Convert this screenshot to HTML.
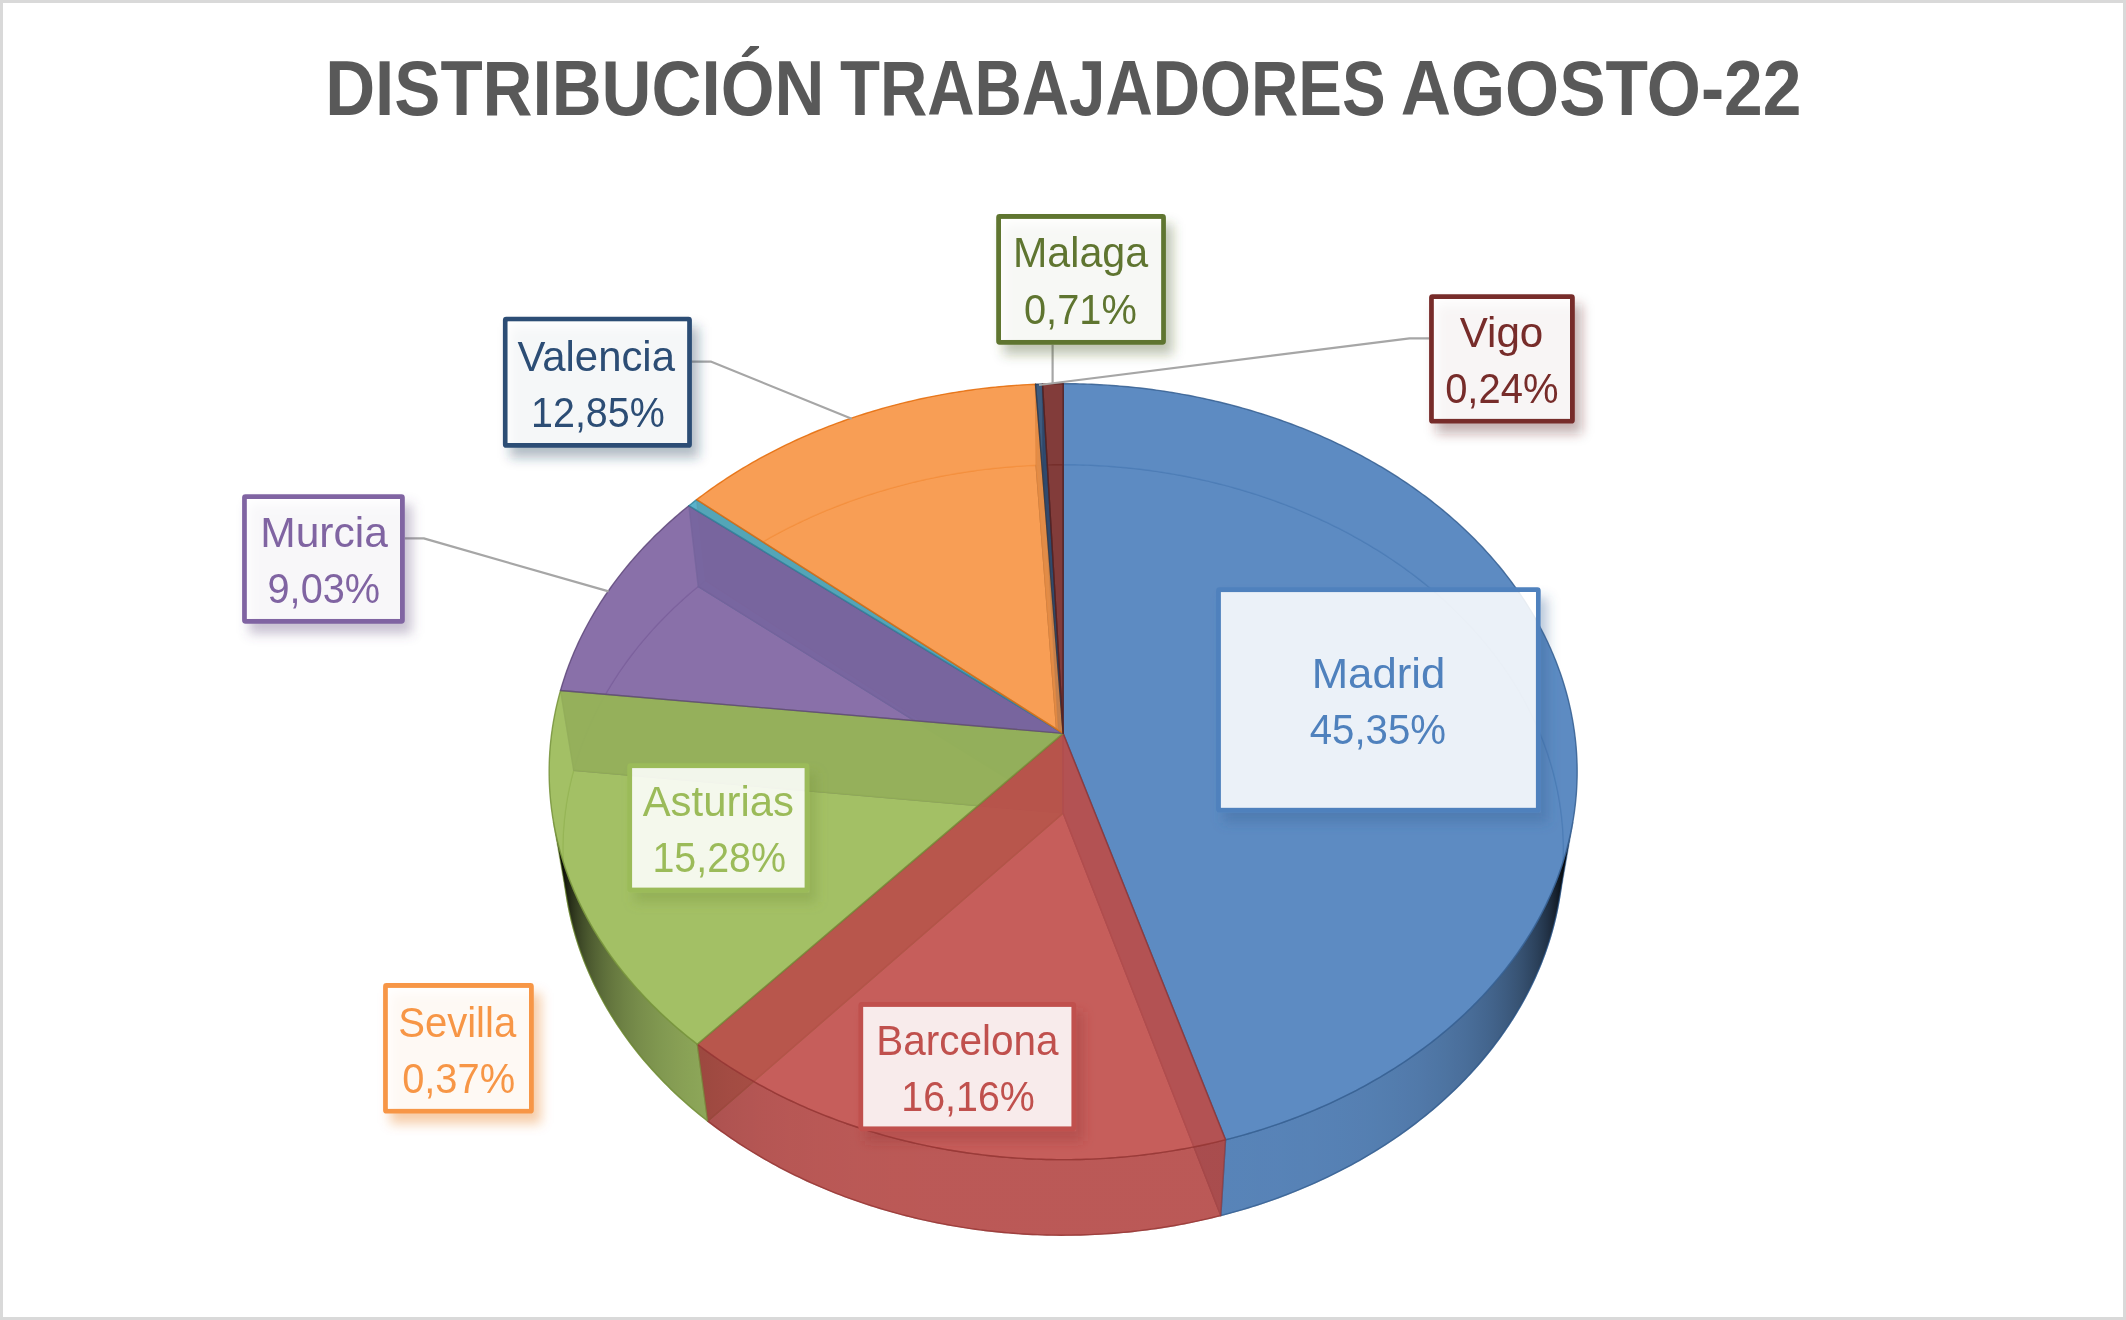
<!DOCTYPE html>
<html><head><meta charset="utf-8"><style>
html,body{margin:0;padding:0;background:#fff;}
body{width:2126px;height:1320px;overflow:hidden;}
svg{display:block;font-family:"Liberation Sans", sans-serif;will-change:transform;}
</style></head><body>
<svg width="2126" height="1320" viewBox="0 0 2126 1320">
<defs><filter id="blur" x="-20%" y="-20%" width="140%" height="140%"><feGaussianBlur stdDeviation="6"/></filter></defs>
<rect x="0" y="0" width="2126" height="1320" fill="#ffffff"/>
<rect x="1.5" y="1.5" width="2123" height="1317" fill="none" stroke="#d9d9d9" stroke-width="3"/>
<text x="325.2" y="114.5" font-size="77" font-weight="bold" fill="#595959" textLength="499.1" lengthAdjust="spacingAndGlyphs">DISTRIBUCIÓN</text>
<text x="839.9" y="114.5" font-size="77" font-weight="bold" fill="#595959" textLength="545.7" lengthAdjust="spacingAndGlyphs">TRABAJADORES</text>
<text x="1400.7" y="114.5" font-size="77" font-weight="bold" fill="#595959" textLength="400.8" lengthAdjust="spacingAndGlyphs">AGOSTO-22</text>
<g id="pie">
<defs><linearGradient id="g0" gradientUnits="userSpaceOnUse" x1="1565.73" y1="0" x2="1223.14" y2="0"><stop offset="-0.0000" stop-color="#000000" stop-opacity="1.000"/><stop offset="0.0037" stop-color="#040608" stop-opacity="1.000"/><stop offset="0.0078" stop-color="#070a0f" stop-opacity="0.991"/><stop offset="0.0124" stop-color="#060a0f" stop-opacity="0.954"/><stop offset="0.0174" stop-color="#050a10" stop-opacity="0.919"/><stop offset="0.0229" stop-color="#040a11" stop-opacity="0.885"/><stop offset="0.0288" stop-color="#040a12" stop-opacity="0.852"/><stop offset="0.0353" stop-color="#030a13" stop-opacity="0.820"/><stop offset="0.0421" stop-color="#020a14" stop-opacity="0.788"/><stop offset="0.0495" stop-color="#010a16" stop-opacity="0.758"/><stop offset="0.0573" stop-color="#000a17" stop-opacity="0.729"/><stop offset="0.0655" stop-color="#020e1d" stop-opacity="0.720"/><stop offset="0.0742" stop-color="#061425" stop-opacity="0.720"/><stop offset="0.0834" stop-color="#0a1a2d" stop-opacity="0.720"/><stop offset="0.0931" stop-color="#0e1f34" stop-opacity="0.720"/><stop offset="0.1032" stop-color="#11243b" stop-opacity="0.720"/><stop offset="0.1137" stop-color="#142942" stop-opacity="0.720"/><stop offset="0.1247" stop-color="#182e49" stop-opacity="0.720"/><stop offset="0.1362" stop-color="#1b334f" stop-opacity="0.720"/><stop offset="0.1481" stop-color="#1e3755" stop-opacity="0.720"/><stop offset="0.1604" stop-color="#203b5b" stop-opacity="0.720"/><stop offset="0.1732" stop-color="#233f61" stop-opacity="0.720"/><stop offset="0.1865" stop-color="#254366" stop-opacity="0.720"/><stop offset="0.2002" stop-color="#28466b" stop-opacity="0.720"/><stop offset="0.2143" stop-color="#2a4a70" stop-opacity="0.720"/><stop offset="0.2288" stop-color="#2c4d75" stop-opacity="0.720"/><stop offset="0.2438" stop-color="#2e5079" stop-opacity="0.720"/><stop offset="0.2593" stop-color="#30537d" stop-opacity="0.720"/><stop offset="0.2751" stop-color="#325681" stop-opacity="0.720"/><stop offset="0.2914" stop-color="#345985" stop-opacity="0.720"/><stop offset="0.3081" stop-color="#365b88" stop-opacity="0.720"/><stop offset="0.3252" stop-color="#375d8b" stop-opacity="0.720"/><stop offset="0.3427" stop-color="#39608e" stop-opacity="0.720"/><stop offset="0.3606" stop-color="#3a6291" stop-opacity="0.720"/><stop offset="0.3789" stop-color="#3b6494" stop-opacity="0.720"/><stop offset="0.3976" stop-color="#3d6596" stop-opacity="0.720"/><stop offset="0.4167" stop-color="#3e6799" stop-opacity="0.720"/><stop offset="0.4361" stop-color="#3f699b" stop-opacity="0.720"/><stop offset="0.4560" stop-color="#406a9d" stop-opacity="0.720"/><stop offset="0.4762" stop-color="#416b9f" stop-opacity="0.720"/><stop offset="0.4968" stop-color="#416da0" stop-opacity="0.720"/><stop offset="0.5177" stop-color="#426ea2" stop-opacity="0.720"/><stop offset="0.5390" stop-color="#436fa3" stop-opacity="0.720"/><stop offset="0.5606" stop-color="#4370a5" stop-opacity="0.720"/><stop offset="0.5826" stop-color="#4471a6" stop-opacity="0.720"/><stop offset="0.6049" stop-color="#4571a7" stop-opacity="0.720"/><stop offset="0.6275" stop-color="#4572a8" stop-opacity="0.720"/><stop offset="0.6505" stop-color="#4573a9" stop-opacity="0.720"/><stop offset="0.6737" stop-color="#4673aa" stop-opacity="0.720"/><stop offset="0.6973" stop-color="#4674ab" stop-opacity="0.720"/><stop offset="0.7211" stop-color="#4774ab" stop-opacity="0.720"/><stop offset="0.7452" stop-color="#4775ac" stop-opacity="0.720"/><stop offset="0.7696" stop-color="#4775ac" stop-opacity="0.720"/><stop offset="0.7943" stop-color="#4775ad" stop-opacity="0.720"/><stop offset="0.8192" stop-color="#4776ad" stop-opacity="0.720"/><stop offset="0.8443" stop-color="#4876ae" stop-opacity="0.720"/><stop offset="0.8697" stop-color="#4876ae" stop-opacity="0.720"/><stop offset="0.8954" stop-color="#4876ae" stop-opacity="0.720"/><stop offset="0.9212" stop-color="#4877ae" stop-opacity="0.720"/><stop offset="0.9473" stop-color="#4877af" stop-opacity="0.720"/><stop offset="0.9735" stop-color="#4877af" stop-opacity="0.720"/><stop offset="1.0000" stop-color="#4877af" stop-opacity="0.720"/></linearGradient><linearGradient id="g1" gradientUnits="userSpaceOnUse" x1="1223.14" y1="0" x2="702.63" y2="0"><stop offset="-0.0000" stop-color="#b24946" stop-opacity="0.720"/><stop offset="0.0175" stop-color="#b24946" stop-opacity="0.720"/><stop offset="0.0352" stop-color="#b24947" stop-opacity="0.720"/><stop offset="0.0529" stop-color="#b24947" stop-opacity="0.720"/><stop offset="0.0707" stop-color="#b24947" stop-opacity="0.720"/><stop offset="0.0887" stop-color="#b24947" stop-opacity="0.720"/><stop offset="0.1067" stop-color="#b24947" stop-opacity="0.720"/><stop offset="0.1248" stop-color="#b24947" stop-opacity="0.720"/><stop offset="0.1429" stop-color="#b24947" stop-opacity="0.720"/><stop offset="0.1612" stop-color="#b24947" stop-opacity="0.720"/><stop offset="0.1794" stop-color="#b24947" stop-opacity="0.720"/><stop offset="0.1978" stop-color="#b24947" stop-opacity="0.720"/><stop offset="0.2162" stop-color="#b24947" stop-opacity="0.720"/><stop offset="0.2346" stop-color="#b24947" stop-opacity="0.720"/><stop offset="0.2530" stop-color="#b24947" stop-opacity="0.720"/><stop offset="0.2715" stop-color="#b24947" stop-opacity="0.720"/><stop offset="0.2900" stop-color="#b24947" stop-opacity="0.720"/><stop offset="0.3084" stop-color="#b24947" stop-opacity="0.720"/><stop offset="0.3269" stop-color="#b24947" stop-opacity="0.720"/><stop offset="0.3454" stop-color="#b24947" stop-opacity="0.720"/><stop offset="0.3639" stop-color="#b24947" stop-opacity="0.720"/><stop offset="0.3823" stop-color="#b24947" stop-opacity="0.720"/><stop offset="0.4007" stop-color="#b24947" stop-opacity="0.720"/><stop offset="0.4191" stop-color="#b24947" stop-opacity="0.720"/><stop offset="0.4374" stop-color="#b24947" stop-opacity="0.720"/><stop offset="0.4557" stop-color="#b24947" stop-opacity="0.720"/><stop offset="0.4739" stop-color="#b24947" stop-opacity="0.720"/><stop offset="0.4921" stop-color="#b24947" stop-opacity="0.720"/><stop offset="0.5102" stop-color="#b24947" stop-opacity="0.720"/><stop offset="0.5282" stop-color="#b24947" stop-opacity="0.720"/><stop offset="0.5461" stop-color="#b24947" stop-opacity="0.720"/><stop offset="0.5639" stop-color="#b24947" stop-opacity="0.720"/><stop offset="0.5817" stop-color="#b24947" stop-opacity="0.720"/><stop offset="0.5993" stop-color="#b24946" stop-opacity="0.720"/><stop offset="0.6168" stop-color="#b24946" stop-opacity="0.720"/><stop offset="0.6342" stop-color="#b24946" stop-opacity="0.720"/><stop offset="0.6514" stop-color="#b14946" stop-opacity="0.720"/><stop offset="0.6686" stop-color="#b14946" stop-opacity="0.720"/><stop offset="0.6855" stop-color="#b14946" stop-opacity="0.720"/><stop offset="0.7024" stop-color="#b14946" stop-opacity="0.720"/><stop offset="0.7191" stop-color="#b04946" stop-opacity="0.720"/><stop offset="0.7356" stop-color="#b04846" stop-opacity="0.720"/><stop offset="0.7520" stop-color="#b04845" stop-opacity="0.720"/><stop offset="0.7682" stop-color="#af4845" stop-opacity="0.720"/><stop offset="0.7842" stop-color="#af4845" stop-opacity="0.720"/><stop offset="0.8001" stop-color="#ae4745" stop-opacity="0.720"/><stop offset="0.8157" stop-color="#ad4744" stop-opacity="0.720"/><stop offset="0.8312" stop-color="#ad4744" stop-opacity="0.720"/><stop offset="0.8465" stop-color="#ac4644" stop-opacity="0.720"/><stop offset="0.8615" stop-color="#ab4643" stop-opacity="0.720"/><stop offset="0.8764" stop-color="#aa4543" stop-opacity="0.720"/><stop offset="0.8910" stop-color="#a94542" stop-opacity="0.720"/><stop offset="0.9055" stop-color="#a74442" stop-opacity="0.720"/><stop offset="0.9197" stop-color="#a64441" stop-opacity="0.720"/><stop offset="0.9337" stop-color="#a44340" stop-opacity="0.720"/><stop offset="0.9474" stop-color="#a34240" stop-opacity="0.720"/><stop offset="0.9609" stop-color="#a1413f" stop-opacity="0.720"/><stop offset="0.9742" stop-color="#9f403e" stop-opacity="0.720"/><stop offset="0.9872" stop-color="#9d3f3d" stop-opacity="0.720"/><stop offset="1.0000" stop-color="#9b3e3c" stop-opacity="0.720"/></linearGradient><linearGradient id="g2" gradientUnits="userSpaceOnUse" x1="702.63" y1="0" x2="560.52" y2="0"><stop offset="-0.0000" stop-color="#7c9746" stop-opacity="0.720"/><stop offset="0.0458" stop-color="#7a9445" stop-opacity="0.720"/><stop offset="0.0907" stop-color="#789243" stop-opacity="0.720"/><stop offset="0.1347" stop-color="#768f42" stop-opacity="0.720"/><stop offset="0.1777" stop-color="#748c40" stop-opacity="0.720"/><stop offset="0.2197" stop-color="#71893f" stop-opacity="0.720"/><stop offset="0.2608" stop-color="#6e863d" stop-opacity="0.720"/><stop offset="0.3008" stop-color="#6b833b" stop-opacity="0.720"/><stop offset="0.3399" stop-color="#687f39" stop-opacity="0.720"/><stop offset="0.3779" stop-color="#657b37" stop-opacity="0.720"/><stop offset="0.4149" stop-color="#627735" stop-opacity="0.720"/><stop offset="0.4509" stop-color="#5e7333" stop-opacity="0.720"/><stop offset="0.4859" stop-color="#5a6e30" stop-opacity="0.720"/><stop offset="0.5198" stop-color="#566a2e" stop-opacity="0.720"/><stop offset="0.5526" stop-color="#52652b" stop-opacity="0.720"/><stop offset="0.5844" stop-color="#4d5f28" stop-opacity="0.720"/><stop offset="0.6151" stop-color="#495a25" stop-opacity="0.720"/><stop offset="0.6448" stop-color="#445422" stop-opacity="0.720"/><stop offset="0.6734" stop-color="#3f4e1f" stop-opacity="0.720"/><stop offset="0.7009" stop-color="#39481c" stop-opacity="0.720"/><stop offset="0.7273" stop-color="#344118" stop-opacity="0.720"/><stop offset="0.7526" stop-color="#2e3a15" stop-opacity="0.720"/><stop offset="0.7768" stop-color="#283311" stop-opacity="0.720"/><stop offset="0.7999" stop-color="#222c0d" stop-opacity="0.720"/><stop offset="0.8219" stop-color="#1b2409" stop-opacity="0.720"/><stop offset="0.8429" stop-color="#141c05" stop-opacity="0.720"/><stop offset="0.8627" stop-color="#0d1300" stop-opacity="0.720"/><stop offset="0.8814" stop-color="#0a0f00" stop-opacity="0.736"/><stop offset="0.8990" stop-color="#0a0f00" stop-opacity="0.769"/><stop offset="0.9155" stop-color="#0b0f02" stop-opacity="0.804"/><stop offset="0.9309" stop-color="#0b0f03" stop-opacity="0.840"/><stop offset="0.9451" stop-color="#0b0f04" stop-opacity="0.877"/><stop offset="0.9583" stop-color="#0c0f05" stop-opacity="0.915"/><stop offset="0.9704" stop-color="#0c0f07" stop-opacity="0.954"/><stop offset="0.9814" stop-color="#0d0f08" stop-opacity="0.995"/><stop offset="0.9912" stop-color="#070804" stop-opacity="1.000"/><stop offset="1.0000" stop-color="#000000" stop-opacity="1.000"/></linearGradient></defs>
<polygon points="1063.15,812.92 1063.28,464.71 1067.23,464.72 1071.19,464.76 1075.15,464.82 1079.11,464.90 1083.07,465.01 1087.02,465.14 1090.98,465.30 1094.93,465.48 1098.88,465.69 1102.83,465.92 1106.78,466.17 1110.72,466.45 1114.66,466.75 1118.60,467.08 1122.54,467.43 1126.47,467.80 1130.40,468.20 1134.32,468.62 1138.24,469.07 1142.16,469.54 1146.07,470.03 1149.98,470.55 1153.88,471.09 1157.78,471.66 1161.67,472.25 1165.56,472.86 1169.44,473.50 1173.32,474.16 1177.19,474.85 1181.05,475.56 1184.90,476.29 1188.75,477.05 1192.60,477.83 1196.43,478.63 1200.26,479.46 1204.08,480.31 1207.89,481.18 1211.69,482.08 1215.48,483.00 1219.27,483.95 1223.05,484.91 1226.81,485.90 1230.57,486.92 1234.32,487.96 1238.06,489.02 1241.79,490.10 1245.51,491.21 1249.22,492.34 1252.92,493.50 1256.60,494.67 1260.28,495.87 1263.94,497.10 1267.60,498.34 1271.24,499.61 1274.87,500.90 1278.48,502.22 1282.09,503.56 1285.68,504.92 1289.26,506.30 1292.82,507.70 1296.37,509.13 1299.91,510.58 1303.44,512.05 1306.95,513.55 1310.45,515.06 1313.93,516.60 1317.40,518.17 1320.85,519.75 1324.29,521.35 1327.71,522.98 1331.11,524.63 1334.50,526.30 1337.88,527.99 1341.24,529.71 1344.58,531.44 1347.90,533.20 1351.21,534.98 1354.50,536.78 1357.78,538.60 1361.03,540.44 1364.27,542.31 1367.49,544.19 1370.69,546.10 1373.88,548.03 1377.04,549.97 1380.19,551.94 1383.32,553.93 1386.42,555.94 1389.51,557.97 1392.58,560.02 1395.63,562.09 1398.65,564.18 1401.66,566.29 1404.65,568.42 1407.61,570.57 1410.56,572.74 1413.48,574.93 1416.38,577.14 1419.26,579.37 1422.12,581.62 1424.95,583.89 1427.77,586.18 1430.56,588.48 1433.32,590.81 1436.07,593.15 1438.79,595.51 1441.49,597.89 1444.16,600.29 1446.81,602.71 1449.44,605.15 1452.04,607.60 1454.61,610.08 1457.17,612.57 1459.69,615.07 1462.19,617.60 1464.67,620.14 1467.12,622.70 1469.54,625.28 1471.94,627.88 1474.31,630.49 1476.66,633.12 1478.98,635.76 1481.27,638.42 1483.53,641.10 1485.77,643.80 1487.98,646.51 1490.16,649.23 1492.31,651.98 1494.44,654.74 1496.54,657.51 1498.61,660.30 1500.65,663.10 1502.66,665.92 1504.64,668.76 1506.59,671.61 1508.51,674.47 1510.41,677.35 1512.27,680.24 1514.10,683.15 1515.90,686.07 1517.68,689.00 1519.42,691.95 1521.13,694.91 1522.80,697.89 1524.45,700.88 1526.07,703.88 1527.65,706.89 1529.21,709.92 1530.73,712.96 1532.21,716.01 1533.67,719.07 1535.09,722.14 1536.48,725.23 1537.84,728.33 1539.16,731.44 1540.46,734.56 1541.71,737.69 1542.94,740.83 1544.13,743.98 1545.28,747.14 1546.40,750.32 1547.49,753.50 1548.54,756.69 1549.56,759.89 1550.55,763.10 1551.49,766.32 1552.41,769.55 1553.29,772.78 1554.13,776.03 1554.94,779.28 1555.71,782.54 1556.44,785.81 1557.14,789.09 1557.80,792.37 1558.43,795.66 1559.02,798.96 1559.58,802.26 1560.09,805.57 1560.57,808.89 1561.02,812.21 1561.42,815.54 1561.79,818.87 1562.12,822.21 1562.42,825.56 1562.68,828.90 1562.90,832.26 1563.08,835.61 1563.22,838.97 1563.33,842.34 1563.39,845.70 1563.42,849.07 1563.41,852.45 1563.36,855.82 1563.28,859.20 1563.15,862.58 1562.99,865.97 1562.79,869.35 1562.55,872.74 1562.27,876.12 1561.95,879.51 1561.59,882.90 1561.19,886.29 1560.75,889.67 1560.28,893.06 1559.76,896.45 1559.21,899.84 1558.62,903.22 1557.98,906.61 1557.31,909.99 1556.60,913.37 1555.84,916.75 1555.05,920.12 1554.22,923.50 1553.35,926.87 1552.44,930.23 1551.49,933.60 1550.49,936.95 1549.46,940.31 1548.39,943.66 1547.28,947.00 1546.13,950.35 1544.94,953.68 1543.71,957.01 1542.44,960.33 1541.13,963.65 1539.78,966.96 1538.40,970.27 1536.97,973.56 1535.50,976.85 1533.99,980.13 1532.44,983.41 1530.85,986.67 1529.23,989.93 1527.56,993.17 1525.85,996.41 1524.11,999.64 1522.32,1002.86 1520.50,1006.07 1518.63,1009.27 1516.73,1012.45 1514.79,1015.63 1512.81,1018.80 1510.79,1021.95 1508.73,1025.09 1506.63,1028.22 1504.49,1031.34 1502.32,1034.44 1500.10,1037.53 1497.85,1040.61 1495.56,1043.67 1493.23,1046.72 1490.87,1049.76 1488.46,1052.78 1486.02,1055.78 1483.54,1058.77 1481.03,1061.74 1478.47,1064.70 1475.88,1067.64 1473.25,1070.57 1470.59,1073.48 1467.89,1076.37 1465.15,1079.24 1462.38,1082.10 1459.56,1084.94 1456.72,1087.76 1453.84,1090.56 1450.92,1093.34 1447.97,1096.11 1444.98,1098.85 1441.95,1101.57 1438.90,1104.28 1435.80,1106.96 1432.68,1109.63 1429.52,1112.27 1426.32,1114.89 1423.09,1117.49 1419.83,1120.07 1416.54,1122.62 1413.21,1125.16 1409.85,1127.67 1406.46,1130.15 1403.03,1132.62 1399.58,1135.06 1396.09,1137.48 1392.57,1139.87 1389.02,1142.24 1385.44,1144.59 1381.83,1146.91 1378.19,1149.20 1374.51,1151.47 1370.81,1153.71 1367.08,1155.93 1363.32,1158.13 1359.54,1160.29 1355.72,1162.43 1351.88,1164.54 1348.01,1166.63 1344.11,1168.69 1340.18,1170.72 1336.23,1172.72 1332.25,1174.70 1328.25,1176.65 1324.22,1178.56 1320.16,1180.45 1316.08,1182.32 1311.98,1184.15 1307.85,1185.95 1303.70,1187.72 1299.52,1189.47 1295.32,1191.18 1291.10,1192.86 1286.86,1194.52 1282.59,1196.14 1278.30,1197.73 1274.00,1199.29 1269.67,1200.82 1265.32,1202.32 1260.95,1203.79 1256.56,1205.22 1252.16,1206.63 1247.73,1208.00 1243.29,1209.34 1238.83,1210.65 1234.35,1211.92 1229.85,1213.16 1225.34,1214.37 1220.81,1215.55" fill="#4f81bd" fill-opacity="0.720" stroke="#376092" stroke-opacity="0.85" stroke-width="1.40" stroke-linejoin="round"/>
<polygon points="1063.15,812.92 1220.81,1215.55 1216.29,1216.69 1211.75,1217.79 1207.19,1218.87 1202.62,1219.91 1198.04,1220.91 1193.45,1221.88 1188.84,1222.82 1184.22,1223.73 1179.58,1224.60 1174.94,1225.44 1170.28,1226.24 1165.62,1227.01 1160.94,1227.75 1156.25,1228.45 1151.56,1229.12 1146.86,1229.75 1142.14,1230.35 1137.42,1230.91 1132.70,1231.44 1127.96,1231.93 1123.22,1232.39 1118.47,1232.82 1113.72,1233.21 1108.96,1233.56 1104.20,1233.88 1099.44,1234.17 1094.67,1234.41 1089.90,1234.63 1085.12,1234.81 1080.34,1234.95 1075.56,1235.06 1070.78,1235.14 1066.00,1235.17 1061.22,1235.18 1056.44,1235.15 1051.66,1235.08 1046.88,1234.98 1042.10,1234.84 1037.33,1234.67 1032.55,1234.46 1027.78,1234.22 1023.02,1233.94 1018.25,1233.63 1013.50,1233.28 1008.74,1232.90 1004.00,1232.48 999.25,1232.03 994.52,1231.54 989.79,1231.02 985.07,1230.46 980.35,1229.87 975.65,1229.24 970.95,1228.58 966.26,1227.89 961.59,1227.16 956.92,1226.40 952.26,1225.60 947.61,1224.77 942.98,1223.90 938.35,1223.00 933.74,1222.07 929.15,1221.10 924.56,1220.10 919.99,1219.07 915.43,1218.00 910.89,1216.91 906.36,1215.77 901.85,1214.61 897.35,1213.41 892.87,1212.18 888.41,1210.92 883.96,1209.62 879.53,1208.29 875.12,1206.94 870.73,1205.54 866.35,1204.12 862.00,1202.67 857.66,1201.18 853.34,1199.67 849.05,1198.12 844.77,1196.54 840.52,1194.93 836.29,1193.30 832.08,1191.63 827.89,1189.93 823.73,1188.20 819.59,1186.44 815.47,1184.65 811.37,1182.84 807.30,1180.99 803.26,1179.12 799.24,1177.22 795.24,1175.29 791.27,1173.33 787.33,1171.34 783.41,1169.33 779.52,1167.28 775.65,1165.22 771.82,1163.12 768.01,1161.00 764.22,1158.85 760.47,1156.67 756.75,1154.47 753.05,1152.25 749.38,1150.00 745.75,1147.72 742.14,1145.42 738.56,1143.09 735.02,1140.74 731.50,1138.36 728.01,1135.97 724.56,1133.54 721.14,1131.10 717.75,1128.63 714.39,1126.14 711.06,1123.62 707.77,1121.09" fill="#c0504d" fill-opacity="0.720" stroke="#953735" stroke-opacity="0.85" stroke-width="1.40" stroke-linejoin="round"/>
<polygon points="1063.15,812.92 707.77,1121.09 704.52,1118.54 701.30,1115.96 698.11,1113.37 694.96,1110.76 691.84,1108.12 688.76,1105.47 685.71,1102.79 682.69,1100.10 679.71,1097.38 676.76,1094.65 673.85,1091.90 670.97,1089.13 668.13,1086.33 665.32,1083.53 662.55,1080.70 659.81,1077.86 657.11,1075.00 654.45,1072.12 651.82,1069.22 649.23,1066.31 646.67,1063.38 644.15,1060.44 641.67,1057.48 639.23,1054.51 636.82,1051.52 634.45,1048.51 632.12,1045.50 629.82,1042.46 627.56,1039.42 625.34,1036.36 623.16,1033.29 621.01,1030.20 618.91,1027.10 616.84,1023.99 614.81,1020.87 612.82,1017.74 610.86,1014.59 608.95,1011.43 607.07,1008.27 605.23,1005.09 603.43,1001.90 601.67,998.70 599.95,995.50 598.27,992.28 596.62,989.05 595.02,985.82 593.45,982.58 591.93,979.32 590.44,976.07 588.99,972.80 587.58,969.52 586.21,966.24 584.88,962.96 583.59,959.66 582.34,956.36 581.12,953.06 579.95,949.75 578.81,946.43 577.72,943.11 576.66,939.78 575.65,936.45 574.67,933.12 573.73,929.78 572.83,926.43 571.97,923.09 571.15,919.74 570.37,916.39 569.62,913.04 568.92,909.68 568.26,906.32 567.63,902.96 567.04,899.60 566.50,896.24 565.99,892.88 565.52,889.52 565.08,886.15 564.69,882.79 564.34,879.43 564.02,876.07 563.74,872.70 563.50,869.34 563.30,865.98 563.14,862.63 563.02,859.27 562.93,855.92 562.88,852.57 562.87,849.22 562.90,845.87 562.96,842.53 563.06,839.19 563.20,835.85 563.38,832.52 563.60,829.19 563.85,825.87 564.14,822.55 564.46,819.24 564.82,815.93 565.22,812.63 565.66,809.33 566.13,806.03 566.64,802.75 567.18,799.47 567.76,796.19 568.38,792.93 569.03,789.67 569.72,786.41 570.44,783.17 571.20,779.93 571.99,776.70 572.82,773.47 573.69,770.26" fill="#9bbb59" fill-opacity="0.720" stroke="#77933c" stroke-opacity="0.85" stroke-width="1.40" stroke-linejoin="round"/>
<polygon points="1063.15,812.92 573.69,770.26 574.58,767.07 575.51,763.90 576.47,760.73 577.46,757.57 578.49,754.41 579.56,751.27 580.65,748.14 581.78,745.02 582.95,741.90 584.14,738.80 585.37,735.71 586.63,732.63 587.92,729.56 589.25,726.50 590.61,723.45 592.00,720.41 593.42,717.38 594.87,714.37 596.36,711.36 597.87,708.37 599.42,705.39 601.00,702.43 602.61,699.47 604.25,696.53 605.92,693.60 607.62,690.68 609.35,687.78 611.11,684.89 612.90,682.02 614.72,679.15 616.57,676.30 618.45,673.47 620.35,670.65 622.29,667.84 624.25,665.05 626.24,662.27 628.27,659.51 630.31,656.76 632.39,654.03 634.49,651.31 636.63,648.61 638.78,645.93 640.97,643.25 643.18,640.60 645.42,637.96 647.69,635.34 649.98,632.73 652.29,630.14 654.64,627.56 657.01,625.01 659.40,622.46 661.82,619.94 664.26,617.43 666.73,614.94 669.23,612.47 671.74,610.01 674.29,607.57 676.85,605.15 679.44,602.75 682.06,600.36 684.69,597.99 687.35,595.64 690.04,593.31 692.74,591.00 695.47,588.70 698.22,586.43" fill="#8064a2" fill-opacity="0.720" stroke="#604a7b" stroke-opacity="0.85" stroke-width="1.40" stroke-linejoin="round"/>
<polygon points="1063.15,812.92 698.22,586.43 700.72,584.39 703.23,582.37 705.77,580.36" fill="#4bacc6" fill-opacity="0.720" stroke="#31859c" stroke-opacity="0.85" stroke-width="1.40" stroke-linejoin="round"/>
<polygon points="1063.15,812.92 705.77,580.36 708.63,578.13 711.51,575.92 714.41,573.73 717.33,571.56 720.28,569.41 723.25,567.28 726.23,565.16 729.24,563.07 732.27,561.00 735.31,558.95 738.38,556.92 741.47,554.90 744.57,552.91 747.70,550.94 750.84,548.99 754.00,547.06 757.18,545.15 760.38,543.26 763.60,541.39 766.84,539.55 770.09,537.72 773.36,535.92 776.65,534.13 779.95,532.37 783.27,530.63 786.61,528.91 789.96,527.21 793.33,525.54 796.72,523.88 800.12,522.25 803.53,520.64 806.96,519.05 810.41,517.48 813.87,515.93 817.35,514.41 820.84,512.91 824.34,511.43 827.86,509.97 831.39,508.54 834.93,507.12 838.49,505.73 842.06,504.36 845.65,503.02 849.24,501.70 852.85,500.39 856.47,499.12 860.10,497.86 863.75,496.63 867.40,495.42 871.07,494.23 874.75,493.07 878.43,491.93 882.13,490.81 885.84,489.71 889.56,488.64 893.29,487.59 897.03,486.56 900.77,485.56 904.53,484.58 908.30,483.62 912.07,482.69 915.86,481.78 919.65,480.89 923.45,480.03 927.25,479.19 931.07,478.37 934.89,477.58 938.72,476.81 942.56,476.06 946.40,475.34 950.25,474.64 954.11,473.97 957.97,473.31 961.84,472.69 965.71,472.08 969.59,471.50 973.48,470.94 977.37,470.41 981.26,469.90 985.16,469.41 989.06,468.95 992.97,468.51 996.88,468.10 1000.80,467.71 1004.72,467.34 1008.64,467.00 1012.56,466.68 1016.49,466.38 1020.42,466.11 1024.36,465.86 1028.29,465.64 1032.23,465.44 1036.17,465.27" fill="#f79646" fill-opacity="0.720" stroke="#e46c0a" stroke-opacity="0.85" stroke-width="1.40" stroke-linejoin="round"/>
<polygon points="1063.15,812.92 1036.17,465.27 1039.59,465.13 1043.01,465.02" fill="#2c4d75" fill-opacity="0.720" stroke="#213a58" stroke-opacity="0.85" stroke-width="1.40" stroke-linejoin="round"/>
<polygon points="1063.15,812.92 1043.01,465.02 1046.39,464.92 1049.76,464.84 1053.14,464.78 1056.52,464.74 1059.90,464.71 1063.28,464.71" fill="#772c2a" fill-opacity="0.720" stroke="#59211f" stroke-opacity="0.85" stroke-width="1.40" stroke-linejoin="round"/>
<polygon points="1063.28,383.70 1067.32,383.71 1071.37,383.75 1075.42,383.81 1079.46,383.90 1083.51,384.00 1087.55,384.14 1091.59,384.29 1095.63,384.48 1099.67,384.68 1103.71,384.91 1107.74,385.16 1111.77,385.44 1115.80,385.74 1119.83,386.07 1123.85,386.42 1127.87,386.79 1131.89,387.19 1135.90,387.61 1139.91,388.05 1143.91,388.52 1147.91,389.01 1151.90,389.53 1155.89,390.07 1159.88,390.63 1163.86,391.22 1167.83,391.83 1171.80,392.47 1175.76,393.13 1179.72,393.81 1183.67,394.52 1187.61,395.25 1191.54,396.00 1195.47,396.78 1199.39,397.58 1203.31,398.40 1207.21,399.25 1211.11,400.12 1215.00,401.02 1218.88,401.94 1222.75,402.88 1226.61,403.84 1230.47,404.83 1234.31,405.84 1238.15,406.88 1241.97,407.94 1245.78,409.02 1249.59,410.12 1253.38,411.25 1257.17,412.40 1260.94,413.58 1264.70,414.77 1268.45,415.99 1272.19,417.23 1275.91,418.50 1279.63,419.79 1283.33,421.10 1287.02,422.43 1290.69,423.79 1294.35,425.17 1298.00,426.57 1301.64,427.99 1305.26,429.44 1308.87,430.91 1312.47,432.40 1316.05,433.91 1319.61,435.45 1323.16,437.00 1326.70,438.58 1330.22,440.18 1333.72,441.81 1337.21,443.45 1340.68,445.12 1344.14,446.81 1347.58,448.52 1351.01,450.25 1354.41,452.00 1357.80,453.78 1361.18,455.58 1364.53,457.39 1367.87,459.23 1371.19,461.09 1374.49,462.97 1377.77,464.88 1381.03,466.80 1384.28,468.74 1387.50,470.71 1390.71,472.69 1393.90,474.70 1397.07,476.72 1400.21,478.77 1403.34,480.84 1406.45,482.92 1409.53,485.03 1412.60,487.16 1415.64,489.31 1418.66,491.47 1421.66,493.66 1424.64,495.87 1427.60,498.09 1430.53,500.34 1433.44,502.60 1436.33,504.89 1439.20,507.19 1442.04,509.51 1444.86,511.85 1447.66,514.21 1450.43,516.59 1453.18,518.99 1455.90,521.40 1458.60,523.84 1461.28,526.29 1463.93,528.76 1466.55,531.25 1469.15,533.75 1471.73,536.28 1474.27,538.82 1476.80,541.38 1479.29,543.95 1481.76,546.55 1484.20,549.16 1486.62,551.78 1489.01,554.43 1491.37,557.09 1493.70,559.77 1496.01,562.46 1498.29,565.17 1500.54,567.90 1502.76,570.64 1504.95,573.40 1507.12,576.17 1509.25,578.96 1511.36,581.76 1513.44,584.58 1515.48,587.42 1517.50,590.27 1519.49,593.13 1521.44,596.01 1523.37,598.91 1525.27,601.82 1527.13,604.74 1528.97,607.67 1530.77,610.62 1532.54,613.59 1534.28,616.56 1535.99,619.56 1537.67,622.56 1539.31,625.57 1540.92,628.60 1542.50,631.65 1544.05,634.70 1545.56,637.77 1547.04,640.84 1548.49,643.93 1549.90,647.04 1551.28,650.15 1552.63,653.27 1553.94,656.41 1555.22,659.56 1556.46,662.71 1557.67,665.88 1558.84,669.06 1559.98,672.25 1561.09,675.44 1562.15,678.65 1563.19,681.87 1564.19,685.09 1565.15,688.33 1566.07,691.57 1566.96,694.83 1567.82,698.09 1568.63,701.36 1569.42,704.63 1570.16,707.92 1570.87,711.21 1571.54,714.51 1572.17,717.82 1572.77,721.13 1573.33,724.45 1573.85,727.78 1574.33,731.11 1574.78,734.45 1575.18,737.79 1575.55,741.14 1575.89,744.50 1576.18,747.86 1576.43,751.22 1576.65,754.59 1576.83,757.96 1576.97,761.34 1577.07,764.72 1577.13,768.10 1577.15,771.49 1577.13,774.88 1577.07,778.27 1576.98,781.67 1576.84,785.07 1576.67,788.47 1576.45,791.87 1576.20,795.27 1575.90,798.67 1575.57,802.08 1575.19,805.48 1574.78,808.89 1574.33,812.29 1573.83,815.70 1573.30,819.10 1572.72,822.51 1558.94,901.41 1559.51,898.03 1560.04,894.65 1560.54,891.27 1560.99,887.89 1561.40,884.51 1561.78,881.13 1562.12,877.75 1562.42,874.38 1562.67,871.00 1562.90,867.62 1563.08,864.25 1563.22,860.87 1563.33,857.50 1563.39,854.14 1563.42,850.77 1563.41,847.41 1563.36,844.05 1563.28,840.69 1563.15,837.33 1562.99,833.99 1562.79,830.64 1562.56,827.30 1562.28,823.96 1561.97,820.63 1561.62,817.30 1561.24,813.98 1560.82,810.66 1560.36,807.35 1559.86,804.05 1559.33,800.75 1558.76,797.46 1558.15,794.17 1557.51,790.89 1556.83,787.62 1556.12,784.35 1555.37,781.10 1554.58,777.85 1553.76,774.61 1552.91,771.37 1552.02,768.15 1551.09,764.93 1550.13,761.73 1549.13,758.53 1548.10,755.34 1547.04,752.16 1545.94,748.99 1544.81,745.83 1543.64,742.68 1542.44,739.54 1541.20,736.41 1539.94,733.29 1538.64,730.19 1537.30,727.09 1535.94,724.01 1534.54,720.93 1533.10,717.87 1531.64,714.82 1530.14,711.78 1528.61,708.76 1527.05,705.74 1525.46,702.74 1523.84,699.75 1522.18,696.78 1520.50,693.82 1518.78,690.87 1517.03,687.93 1515.25,685.01 1513.44,682.10 1511.61,679.21 1509.74,676.33 1507.84,673.46 1505.91,670.61 1503.95,667.77 1501.97,664.95 1499.95,662.14 1497.91,659.35 1495.83,656.57 1493.73,653.81 1491.60,651.07 1489.45,648.34 1487.26,645.62 1485.05,642.92 1482.81,640.24 1480.54,637.57 1478.25,634.92 1475.93,632.29 1473.58,629.67 1471.20,627.07 1468.80,624.49 1466.38,621.92 1463.93,619.38 1461.45,616.84 1458.95,614.33 1456.42,611.83 1453.87,609.36 1451.29,606.90 1448.69,604.45 1446.06,602.03 1443.41,599.62 1440.74,597.23 1438.04,594.86 1435.32,592.51 1432.58,590.18 1429.81,587.87 1427.03,585.57 1424.21,583.29 1421.38,581.04 1418.52,578.80 1415.65,576.58 1412.75,574.38 1409.83,572.20 1406.88,570.04 1403.92,567.90 1400.94,565.78 1397.93,563.68 1394.91,561.60 1391.86,559.54 1388.80,557.50 1385.72,555.48 1382.61,553.48 1379.49,551.50 1376.35,549.54 1373.19,547.60 1370.01,545.69 1366.81,543.79 1363.59,541.92 1360.36,540.06 1357.11,538.23 1353.84,536.41 1350.55,534.62 1347.25,532.85 1343.93,531.10 1340.59,529.38 1337.24,527.67 1333.87,525.99 1330.49,524.33 1327.09,522.68 1323.67,521.07 1320.24,519.47 1316.79,517.89 1313.33,516.34 1309.86,514.81 1306.37,513.30 1302.86,511.81 1299.35,510.35 1295.81,508.90 1292.27,507.48 1288.71,506.09 1285.14,504.71 1281.55,503.36 1277.96,502.03 1274.35,500.72 1270.73,499.43 1267.09,498.17 1263.45,496.93 1259.79,495.71 1256.13,494.52 1252.45,493.35 1248.76,492.20 1245.06,491.08 1241.35,489.97 1237.63,488.89 1233.89,487.84 1230.15,486.81 1226.40,485.80 1222.65,484.81 1218.88,483.85 1215.10,482.91 1211.32,481.99 1207.52,481.10 1203.72,480.23 1199.91,479.38 1196.09,478.56 1192.27,477.76 1188.43,476.98 1184.59,476.23 1180.75,475.50 1176.90,474.80 1173.04,474.11 1169.17,473.46 1165.30,472.82 1161.42,472.21 1157.54,471.62 1153.65,471.06 1149.76,470.52 1145.86,470.01 1141.96,469.52 1138.05,469.05 1134.14,468.60 1130.23,468.18 1126.31,467.79 1122.38,467.42 1118.46,467.07 1114.53,466.74 1110.60,466.44 1106.66,466.17 1102.73,465.91 1098.79,465.68 1094.85,465.48 1090.90,465.30 1086.96,465.14 1083.01,465.01 1079.07,464.90 1075.12,464.82 1071.17,464.75 1067.22,464.72 1063.28,464.71" fill="#4f81bd" fill-opacity="0.720"/>
<polygon points="553.53,822.28 552.97,818.94 552.45,815.60 551.96,812.25 551.51,808.91 551.11,805.57 550.74,802.22 550.41,798.88 550.12,795.54 549.86,792.20 549.65,788.86 549.47,785.52 549.33,782.18 549.23,778.85 549.17,775.51 549.14,772.18 549.16,768.86 549.21,765.53 549.30,762.21 549.42,758.90 549.59,755.58 549.79,752.27 550.02,748.97 550.30,745.67 550.61,742.37 550.96,739.08 551.35,735.79 551.77,732.51 552.23,729.24 552.72,725.97 553.25,722.71 553.82,719.45 554.43,716.20 555.07,712.95 555.74,709.72 556.45,706.49 557.20,703.27 557.98,700.05 558.80,696.84 559.65,693.64 560.53,690.45 573.69,770.26 572.83,773.43 572.02,776.61 571.23,779.80 570.48,782.99 569.77,786.20 569.08,789.41 568.44,792.62 567.83,795.85 567.25,799.08 566.71,802.31 566.20,805.56 565.73,808.80 565.29,812.06 564.89,815.32 564.53,818.58 564.20,821.85 563.91,825.12 563.65,828.40 563.43,831.68 563.25,834.97 563.10,838.26 562.99,841.56 562.91,844.85 562.87,848.15 562.87,851.46 562.91,854.76 562.98,858.07 563.09,861.38 563.24,864.70 563.42,868.01 563.64,871.32 563.90,874.64 564.19,877.96 564.53,881.28 564.90,884.60 565.31,887.91 565.75,891.23 566.23,894.55 566.76,897.87 567.31,901.18" fill="#9bbb59" fill-opacity="0.720"/>
<polygon points="560.53,690.45 561.46,687.25 562.43,684.05 563.42,680.86 564.46,677.68 565.52,674.51 566.63,671.35 567.76,668.20 568.93,665.06 570.14,661.93 571.37,658.81 572.65,655.70 573.95,652.60 575.29,649.51 576.66,646.44 578.06,643.37 579.50,640.32 580.97,637.27 582.47,634.24 584.01,631.22 585.57,628.22 587.17,625.22 588.80,622.24 590.46,619.27 592.15,616.32 593.88,613.37 595.63,610.44 597.42,607.52 599.23,604.62 601.08,601.73 602.96,598.85 604.86,595.99 606.80,593.14 608.76,590.31 610.76,587.49 612.78,584.69 614.83,581.90 616.92,579.12 619.03,576.36 621.17,573.62 623.33,570.89 625.53,568.17 627.75,565.48 630.00,562.79 632.28,560.13 634.58,557.48 636.91,554.84 639.27,552.22 641.66,549.62 644.07,547.04 646.51,544.47 648.97,541.92 651.46,539.38 653.97,536.86 656.51,534.36 659.08,531.88 661.67,529.42 664.28,526.97 666.92,524.54 669.58,522.13 672.27,519.73 674.98,517.35 677.71,515.00 680.47,512.65 683.25,510.33 686.06,508.03 688.88,505.74 698.22,586.43 695.47,588.70 692.74,591.00 690.04,593.31 687.35,595.64 684.69,597.99 682.06,600.36 679.44,602.75 676.85,605.15 674.29,607.57 671.74,610.01 669.23,612.47 666.73,614.94 664.26,617.43 661.82,619.94 659.40,622.46 657.01,625.01 654.64,627.56 652.29,630.14 649.98,632.73 647.69,635.34 645.42,637.96 643.18,640.60 640.97,643.25 638.78,645.93 636.63,648.61 634.49,651.31 632.39,654.03 630.31,656.76 628.27,659.51 626.24,662.27 624.25,665.05 622.29,667.84 620.35,670.65 618.45,673.47 616.57,676.30 614.72,679.15 612.90,682.02 611.11,684.89 609.35,687.78 607.62,690.68 605.92,693.60 604.25,696.53 602.61,699.47 601.00,702.43 599.42,705.39 597.87,708.37 596.36,711.36 594.87,714.37 593.42,717.38 592.00,720.41 590.61,723.45 589.25,726.50 587.92,729.56 586.63,732.63 585.37,735.71 584.14,738.80 582.95,741.90 581.78,745.02 580.65,748.14 579.56,751.27 578.49,754.41 577.46,757.57 576.47,760.73 575.51,763.90 574.58,767.07 573.69,770.26" fill="#8064a2" fill-opacity="0.720"/>
<polygon points="688.88,505.74 691.45,503.70 694.04,501.67 696.64,499.66 705.77,580.36 703.23,582.37 700.72,584.39 698.22,586.43" fill="#4bacc6" fill-opacity="0.720"/>
<polygon points="696.64,499.66 699.58,497.42 702.54,495.20 705.52,493.01 708.52,490.83 711.55,488.67 714.60,486.53 717.66,484.41 720.75,482.31 723.86,480.23 726.99,478.17 730.14,476.14 733.31,474.12 736.50,472.12 739.71,470.14 742.93,468.19 746.18,466.25 749.45,464.34 752.73,462.44 756.03,460.57 759.35,458.72 762.69,456.89 766.05,455.08 769.42,453.29 772.81,451.52 776.22,449.78 779.64,448.05 783.08,446.35 786.54,444.67 790.02,443.01 793.50,441.37 797.01,439.76 800.53,438.16 804.07,436.59 807.62,435.04 811.18,433.51 814.76,432.01 818.36,430.52 821.96,429.06 825.59,427.62 829.22,426.21 832.87,424.81 836.53,423.44 840.21,422.09 843.90,420.77 847.60,419.46 851.31,418.18 855.03,416.92 858.77,415.69 862.52,414.48 866.28,413.29 870.05,412.12 873.83,410.98 877.62,409.85 881.42,408.76 885.24,407.68 889.06,406.63 892.89,405.60 896.74,404.60 900.59,403.61 904.45,402.66 908.32,401.72 912.20,400.81 916.08,399.92 919.98,399.05 923.88,398.21 927.79,397.39 931.71,396.60 935.63,395.83 939.57,395.08 943.51,394.36 947.45,393.66 951.40,392.98 955.36,392.33 959.33,391.70 963.30,391.09 967.27,390.51 971.26,389.95 975.24,389.42 979.23,388.90 983.23,388.42 987.23,387.96 991.24,387.52 995.24,387.10 999.26,386.71 1003.27,386.34 1007.29,386.00 1011.31,385.68 1015.34,385.38 1019.37,385.11 1023.40,384.86 1027.43,384.64 1031.46,384.44 1035.50,384.26 1036.17,465.27 1032.23,465.44 1028.29,465.64 1024.36,465.86 1020.42,466.11 1016.49,466.38 1012.56,466.68 1008.64,467.00 1004.72,467.34 1000.80,467.71 996.88,468.10 992.97,468.51 989.06,468.95 985.16,469.41 981.26,469.90 977.37,470.41 973.48,470.94 969.59,471.50 965.71,472.08 961.84,472.69 957.97,473.31 954.11,473.97 950.25,474.64 946.40,475.34 942.56,476.06 938.72,476.81 934.89,477.58 931.07,478.37 927.25,479.19 923.45,480.03 919.65,480.89 915.86,481.78 912.07,482.69 908.30,483.62 904.53,484.58 900.77,485.56 897.03,486.56 893.29,487.59 889.56,488.64 885.84,489.71 882.13,490.81 878.43,491.93 874.75,493.07 871.07,494.23 867.40,495.42 863.75,496.63 860.10,497.86 856.47,499.12 852.85,500.39 849.24,501.70 845.65,503.02 842.06,504.36 838.49,505.73 834.93,507.12 831.39,508.54 827.86,509.97 824.34,511.43 820.84,512.91 817.35,514.41 813.87,515.93 810.41,517.48 806.96,519.05 803.53,520.64 800.12,522.25 796.72,523.88 793.33,525.54 789.96,527.21 786.61,528.91 783.27,530.63 779.95,532.37 776.65,534.13 773.36,535.92 770.09,537.72 766.84,539.55 763.60,541.39 760.38,543.26 757.18,545.15 754.00,547.06 750.84,548.99 747.70,550.94 744.57,552.91 741.47,554.90 738.38,556.92 735.31,558.95 732.27,561.00 729.24,563.07 726.23,565.16 723.25,567.28 720.28,569.41 717.33,571.56 714.41,573.73 711.51,575.92 708.63,578.13 705.77,580.36" fill="#f79646" fill-opacity="0.720"/>
<polygon points="1035.50,384.26 1039.01,384.13 1042.51,384.01 1043.01,465.02 1039.59,465.13 1036.17,465.27" fill="#2c4d75" fill-opacity="0.720"/>
<polygon points="1042.51,384.01 1045.97,383.92 1049.43,383.84 1052.89,383.78 1056.35,383.73 1059.82,383.71 1063.28,383.70 1063.28,464.71 1059.90,464.71 1056.52,464.74 1053.14,464.78 1049.76,464.84 1046.39,464.92 1043.01,465.02" fill="#772c2a" fill-opacity="0.720"/>
<polygon points="1063.15,733.39 1035.50,384.26 1036.17,465.27 1063.15,812.92" fill="#264366" fill-opacity="0.720" stroke="#213a58" stroke-opacity="0.42" stroke-width="1.40" stroke-linejoin="round"/>
<polygon points="1063.15,733.39 1042.51,384.01 1043.01,465.02 1063.15,812.92" fill="#682625" fill-opacity="0.720" stroke="#59211f" stroke-opacity="0.42" stroke-width="1.40" stroke-linejoin="round"/>
<polygon points="1063.15,733.39 1063.28,383.70 1063.28,464.71 1063.15,812.92" fill="#682625" fill-opacity="0.720" stroke="#59211f" stroke-opacity="0.42" stroke-width="1.40" stroke-linejoin="round"/>
<polygon points="1063.15,733.39 1063.28,383.70 1063.28,464.71 1063.15,812.92" fill="#4570a4" fill-opacity="0.720" stroke="#376092" stroke-opacity="0.42" stroke-width="1.40" stroke-linejoin="round"/>
<polygon points="1063.15,733.39 1035.50,384.26 1036.17,465.27 1063.15,812.92" fill="#d7823d" fill-opacity="0.720" stroke="#e46c0a" stroke-opacity="0.42" stroke-width="1.40" stroke-linejoin="round"/>
<polygon points="1063.15,733.39 1042.51,384.01 1043.01,465.02 1063.15,812.92" fill="#264366" fill-opacity="0.720" stroke="#213a58" stroke-opacity="0.42" stroke-width="1.40" stroke-linejoin="round"/>
<polygon points="1063.15,733.39 696.64,499.66 705.77,580.36 1063.15,812.92" fill="#d7823d" fill-opacity="0.720" stroke="#e46c0a" stroke-opacity="0.42" stroke-width="1.40" stroke-linejoin="round"/>
<polygon points="1063.15,733.39 696.64,499.66 705.77,580.36 1063.15,812.92" fill="#4196ac" fill-opacity="0.720" stroke="#31859c" stroke-opacity="0.42" stroke-width="1.40" stroke-linejoin="round"/>
<polygon points="1063.15,733.39 688.88,505.74 698.22,586.43 1063.15,812.92" fill="#4196ac" fill-opacity="0.720" stroke="#31859c" stroke-opacity="0.42" stroke-width="1.40" stroke-linejoin="round"/>
<polygon points="1063.15,733.39 688.88,505.74 698.22,586.43 1063.15,812.92" fill="#6f578d" fill-opacity="0.720" stroke="#604a7b" stroke-opacity="0.42" stroke-width="1.40" stroke-linejoin="round"/>
<polygon points="1063.15,733.39 560.53,690.45 573.69,770.26 1063.15,812.92" fill="#6f578d" fill-opacity="0.720" stroke="#604a7b" stroke-opacity="0.42" stroke-width="1.40" stroke-linejoin="round"/>
<polygon points="1063.15,733.39 560.53,690.45 573.69,770.26 1063.15,812.92" fill="#87a34d" fill-opacity="0.720" stroke="#77933c" stroke-opacity="0.42" stroke-width="1.40" stroke-linejoin="round"/>
<polygon points="1063.15,733.39 697.34,1044.24 707.77,1121.09 1063.15,812.92" fill="#87a34d" fill-opacity="0.720" stroke="#77933c" stroke-opacity="0.42" stroke-width="1.40" stroke-linejoin="round"/>
<polygon points="1063.15,733.39 697.34,1044.24 707.77,1121.09 1063.15,812.92" fill="#a74643" fill-opacity="0.720" stroke="#953735" stroke-opacity="0.42" stroke-width="1.40" stroke-linejoin="round"/>
<polygon points="1063.15,733.39 1225.54,1139.79 1220.81,1215.55 1063.15,812.92" fill="#4570a4" fill-opacity="0.720" stroke="#376092" stroke-opacity="0.42" stroke-width="1.40" stroke-linejoin="round"/>
<polygon points="1063.15,733.39 1225.54,1139.79 1220.81,1215.55 1063.15,812.92" fill="#a74643" fill-opacity="0.720" stroke="#953735" stroke-opacity="0.42" stroke-width="1.40" stroke-linejoin="round"/>
<polygon points="1572.72,822.51 1572.10,825.90 1571.45,829.30 1570.75,832.70 1570.02,836.09 1569.24,839.48 1568.42,842.87 1567.56,846.26 1566.67,849.64 1565.73,853.02 1564.75,856.39 1563.73,859.77 1562.67,863.14 1561.56,866.50 1560.42,869.86 1559.24,873.21 1558.01,876.56 1556.75,879.90 1555.44,883.24 1554.10,886.57 1552.71,889.89 1551.28,893.21 1549.81,896.52 1548.30,899.82 1546.75,903.12 1545.16,906.41 1543.53,909.68 1541.86,912.96 1540.15,916.22 1538.40,919.47 1536.61,922.71 1534.77,925.94 1532.90,929.17 1530.99,932.38 1529.03,935.58 1527.04,938.77 1525.01,941.95 1522.93,945.12 1520.82,948.27 1518.67,951.41 1516.48,954.54 1514.25,957.66 1511.98,960.77 1509.67,963.86 1507.32,966.93 1504.93,970.00 1502.50,973.05 1500.03,976.08 1497.53,979.10 1494.99,982.10 1492.41,985.09 1489.79,988.06 1487.13,991.02 1484.43,993.96 1481.70,996.88 1478.93,999.79 1476.12,1002.67 1473.28,1005.54 1470.39,1008.40 1467.48,1011.23 1464.52,1014.05 1461.53,1016.84 1458.50,1019.62 1455.44,1022.38 1452.34,1025.12 1449.20,1027.83 1446.03,1030.53 1442.82,1033.21 1439.58,1035.86 1436.31,1038.50 1433.00,1041.11 1429.65,1043.70 1426.27,1046.27 1422.86,1048.82 1419.41,1051.34 1415.94,1053.85 1412.42,1056.32 1408.88,1058.78 1405.30,1061.21 1401.69,1063.62 1398.05,1066.00 1394.38,1068.36 1390.68,1070.69 1386.94,1073.00 1383.18,1075.28 1379.38,1077.54 1375.56,1079.77 1371.71,1081.98 1367.82,1084.16 1363.91,1086.31 1359.97,1088.43 1356.00,1090.53 1352.00,1092.60 1347.97,1094.65 1343.92,1096.66 1339.84,1098.65 1335.73,1100.61 1331.60,1102.54 1327.44,1104.44 1323.26,1106.32 1319.05,1108.16 1314.81,1109.98 1310.56,1111.76 1306.27,1113.52 1301.97,1115.24 1297.64,1116.94 1293.29,1118.60 1288.91,1120.23 1284.51,1121.84 1280.10,1123.41 1275.66,1124.95 1271.20,1126.46 1266.72,1127.94 1262.22,1129.38 1257.70,1130.80 1253.16,1132.18 1248.60,1133.53 1244.02,1134.85 1239.43,1136.13 1234.82,1137.38 1230.19,1138.60 1225.54,1139.79 1220.81,1215.55 1225.32,1214.38 1229.82,1213.17 1234.30,1211.93 1238.76,1210.67 1243.20,1209.36 1247.63,1208.03 1252.04,1206.66 1256.43,1205.27 1260.80,1203.84 1265.15,1202.38 1269.49,1200.89 1273.80,1199.36 1278.09,1197.81 1282.36,1196.23 1286.61,1194.61 1290.84,1192.97 1295.05,1191.29 1299.23,1189.59 1303.39,1187.85 1307.53,1186.09 1311.65,1184.29 1315.74,1182.47 1319.80,1180.62 1323.84,1178.74 1327.86,1176.83 1331.85,1174.89 1335.82,1172.93 1339.76,1170.94 1343.67,1168.92 1347.56,1166.87 1351.42,1164.79 1355.25,1162.69 1359.06,1160.56 1362.83,1158.41 1366.58,1156.23 1370.30,1154.02 1373.99,1151.79 1377.65,1149.53 1381.28,1147.25 1384.89,1144.94 1388.46,1142.61 1392.00,1140.25 1395.51,1137.87 1398.99,1135.47 1402.44,1133.04 1405.86,1130.59 1409.24,1128.12 1412.59,1125.62 1415.92,1123.10 1419.20,1120.56 1422.46,1117.99 1425.68,1115.41 1428.87,1112.80 1432.03,1110.17 1435.15,1107.53 1438.24,1104.86 1441.29,1102.17 1444.31,1099.46 1447.29,1096.73 1450.24,1093.98 1453.16,1091.21 1456.04,1088.43 1458.88,1085.62 1461.69,1082.80 1464.46,1079.96 1467.20,1077.10 1469.90,1074.22 1472.56,1071.33 1475.19,1068.42 1477.78,1065.49 1480.34,1062.55 1482.85,1059.59 1485.33,1056.62 1487.78,1053.63 1490.18,1050.62 1492.55,1047.61 1494.88,1044.57 1497.17,1041.52 1499.43,1038.46 1501.64,1035.39 1503.82,1032.30 1505.96,1029.20 1508.06,1026.09 1510.13,1022.96 1512.15,1019.82 1514.14,1016.68 1516.09,1013.51 1518.00,1010.34 1519.87,1007.16 1521.70,1003.97 1523.49,1000.76 1525.24,997.55 1526.96,994.33 1528.63,991.10 1530.27,987.86 1531.86,984.61 1533.42,981.35 1534.94,978.08 1536.41,974.81 1537.85,971.53 1539.25,968.24 1540.61,964.94 1541.93,961.64 1543.21,958.33 1544.45,955.02 1545.65,951.70 1546.82,948.37 1547.94,945.04 1549.02,941.71 1550.07,938.37 1551.07,935.02 1552.03,931.68 1552.96,928.32 1553.84,924.97 1554.69,921.61 1555.50,918.25 1556.26,914.88 1556.99,911.52 1557.68,908.15 1558.33,904.78 1558.94,901.41" fill="url(#g0)" stroke="#376092" stroke-opacity="0.51" stroke-width="1.40" stroke-linejoin="round"/>
<polygon points="1225.54,1139.79 1220.88,1140.94 1216.21,1142.06 1211.52,1143.15 1206.81,1144.20 1202.09,1145.22 1197.36,1146.20 1192.62,1147.15 1187.86,1148.07 1183.08,1148.95 1178.30,1149.80 1173.51,1150.61 1168.70,1151.39 1163.88,1152.14 1159.06,1152.85 1154.22,1153.52 1149.38,1154.16 1144.52,1154.77 1139.66,1155.34 1134.79,1155.88 1129.91,1156.38 1125.03,1156.84 1120.14,1157.27 1115.25,1157.66 1110.35,1158.02 1105.44,1158.35 1100.53,1158.63 1095.62,1158.89 1090.70,1159.10 1085.78,1159.29 1080.86,1159.43 1075.94,1159.54 1071.01,1159.62 1066.09,1159.66 1061.16,1159.66 1056.24,1159.63 1051.31,1159.56 1046.39,1159.46 1041.47,1159.32 1036.55,1159.14 1031.63,1158.93 1026.72,1158.69 1021.81,1158.41 1016.90,1158.09 1012.00,1157.74 1007.10,1157.35 1002.21,1156.93 997.33,1156.47 992.45,1155.98 987.58,1155.45 982.72,1154.88 977.86,1154.28 973.01,1153.65 968.18,1152.98 963.35,1152.28 958.53,1151.54 953.72,1150.77 948.92,1149.96 944.14,1149.12 939.36,1148.24 934.60,1147.33 929.85,1146.39 925.12,1145.41 920.40,1144.40 915.69,1143.35 911.00,1142.28 906.32,1141.16 901.65,1140.02 897.01,1138.84 892.38,1137.62 887.76,1136.38 883.17,1135.10 878.59,1133.79 874.03,1132.45 869.49,1131.07 864.96,1129.66 860.46,1128.22 855.98,1126.75 851.51,1125.25 847.07,1123.72 842.65,1122.15 838.25,1120.55 833.87,1118.93 829.52,1117.27 825.18,1115.58 820.87,1113.86 816.59,1112.11 812.33,1110.33 808.09,1108.53 803.88,1106.69 799.69,1104.82 795.52,1102.93 791.39,1101.00 787.28,1099.05 783.19,1097.07 779.13,1095.06 775.10,1093.02 771.10,1090.95 767.13,1088.86 763.18,1086.74 759.26,1084.60 755.37,1082.42 751.51,1080.22 747.68,1078.00 743.88,1075.75 740.11,1073.47 736.37,1071.17 732.67,1068.84 728.99,1066.49 725.34,1064.11 721.73,1061.71 718.15,1059.28 714.60,1056.83 711.08,1054.36 707.59,1051.86 704.14,1049.34 700.72,1046.80 697.34,1044.24 707.77,1121.09 711.06,1123.62 714.39,1126.14 717.75,1128.63 721.14,1131.10 724.56,1133.54 728.01,1135.97 731.50,1138.36 735.02,1140.74 738.56,1143.09 742.14,1145.42 745.75,1147.72 749.38,1150.00 753.05,1152.25 756.75,1154.47 760.47,1156.67 764.22,1158.85 768.01,1161.00 771.82,1163.12 775.65,1165.22 779.52,1167.28 783.41,1169.33 787.33,1171.34 791.27,1173.33 795.24,1175.29 799.24,1177.22 803.26,1179.12 807.30,1180.99 811.37,1182.84 815.47,1184.65 819.59,1186.44 823.73,1188.20 827.89,1189.93 832.08,1191.63 836.29,1193.30 840.52,1194.93 844.77,1196.54 849.05,1198.12 853.34,1199.67 857.66,1201.18 862.00,1202.67 866.35,1204.12 870.73,1205.54 875.12,1206.94 879.53,1208.29 883.96,1209.62 888.41,1210.92 892.87,1212.18 897.35,1213.41 901.85,1214.61 906.36,1215.77 910.89,1216.91 915.43,1218.00 919.99,1219.07 924.56,1220.10 929.15,1221.10 933.74,1222.07 938.35,1223.00 942.98,1223.90 947.61,1224.77 952.26,1225.60 956.92,1226.40 961.59,1227.16 966.26,1227.89 970.95,1228.58 975.65,1229.24 980.35,1229.87 985.07,1230.46 989.79,1231.02 994.52,1231.54 999.25,1232.03 1004.00,1232.48 1008.74,1232.90 1013.50,1233.28 1018.25,1233.63 1023.02,1233.94 1027.78,1234.22 1032.55,1234.46 1037.33,1234.67 1042.10,1234.84 1046.88,1234.98 1051.66,1235.08 1056.44,1235.15 1061.22,1235.18 1066.00,1235.17 1070.78,1235.14 1075.56,1235.06 1080.34,1234.95 1085.12,1234.81 1089.90,1234.63 1094.67,1234.41 1099.44,1234.17 1104.20,1233.88 1108.96,1233.56 1113.72,1233.21 1118.47,1232.82 1123.22,1232.39 1127.96,1231.93 1132.70,1231.44 1137.42,1230.91 1142.14,1230.35 1146.86,1229.75 1151.56,1229.12 1156.25,1228.45 1160.94,1227.75 1165.62,1227.01 1170.28,1226.24 1174.94,1225.44 1179.58,1224.60 1184.22,1223.73 1188.84,1222.82 1193.45,1221.88 1198.04,1220.91 1202.62,1219.91 1207.19,1218.87 1211.75,1217.79 1216.29,1216.69 1220.81,1215.55" fill="url(#g1)" stroke="#953735" stroke-opacity="0.51" stroke-width="1.40" stroke-linejoin="round"/>
<polygon points="697.34,1044.24 693.97,1041.64 690.64,1039.02 687.35,1036.38 684.09,1033.72 680.86,1031.04 677.67,1028.33 674.52,1025.61 671.40,1022.86 668.32,1020.10 665.27,1017.31 662.26,1014.51 659.29,1011.69 656.35,1008.84 653.45,1005.98 650.59,1003.10 647.77,1000.21 644.98,997.29 642.23,994.36 639.52,991.41 636.85,988.45 634.21,985.47 631.62,982.47 629.06,979.46 626.54,976.43 624.06,973.38 621.62,970.33 619.22,967.25 616.86,964.16 614.54,961.06 612.25,957.95 610.01,954.82 607.81,951.68 605.64,948.52 603.52,945.36 601.43,942.18 599.39,938.99 597.39,935.79 595.42,932.57 593.50,929.35 591.62,926.12 589.78,922.87 587.97,919.62 586.21,916.35 584.49,913.08 582.81,909.80 581.18,906.51 579.58,903.21 578.02,899.90 576.51,896.58 575.03,893.26 573.60,889.93 572.21,886.59 570.85,883.25 569.54,879.90 568.27,876.55 567.04,873.18 565.86,869.82 564.71,866.45 563.61,863.07 562.54,859.69 561.52,856.30 560.54,852.91 559.59,849.52 558.69,846.13 557.83,842.73 557.01,839.32 556.24,835.92 555.50,832.51 554.80,829.10 554.15,825.69 553.53,822.28 567.31,901.18 567.92,904.57 568.57,907.95 569.26,911.33 569.99,914.71 570.76,918.09 571.57,921.47 572.41,924.84 573.30,928.21 574.23,931.57 575.20,934.93 576.20,938.29 577.25,941.64 578.34,944.99 579.46,948.34 580.63,951.67 581.83,955.01 583.08,958.33 584.36,961.65 585.69,964.97 587.06,968.28 588.46,971.58 589.91,974.87 591.39,978.16 592.91,981.44 594.48,984.71 596.08,987.97 597.72,991.22 599.41,994.47 601.13,997.70 602.89,1000.92 604.69,1004.14 606.53,1007.34 608.41,1010.54 610.33,1013.72 612.29,1016.89 614.28,1020.05 616.32,1023.20 618.39,1026.34 620.51,1029.46 622.66,1032.57 624.85,1035.67 627.08,1038.76 629.35,1041.83 631.65,1044.89 633.99,1047.93 636.38,1050.96 638.79,1053.97 641.25,1056.97 643.74,1059.96 646.28,1062.92 648.85,1065.88 651.45,1068.81 654.09,1071.73 656.77,1074.63 659.49,1077.52 662.24,1080.38 665.03,1083.23 667.86,1086.06 670.72,1088.88 673.61,1091.67 676.54,1094.44 679.51,1097.20 682.51,1099.94 685.55,1102.65 688.62,1105.35 691.73,1108.02 694.87,1110.68 698.04,1113.31 701.25,1115.93 704.49,1118.52 707.77,1121.09" fill="url(#g2)" stroke="#77933c" stroke-opacity="0.51" stroke-width="1.40" stroke-linejoin="round"/>
<polygon points="1063.15,733.39 1063.28,383.70 1067.34,383.71 1071.39,383.75 1075.45,383.81 1079.50,383.90 1083.56,384.01 1087.61,384.14 1091.66,384.30 1095.72,384.48 1099.76,384.69 1103.81,384.92 1107.86,385.17 1111.90,385.45 1115.94,385.75 1119.97,386.08 1124.01,386.43 1128.04,386.80 1132.06,387.20 1136.09,387.63 1140.10,388.07 1144.12,388.54 1148.13,389.04 1152.13,389.56 1156.13,390.10 1160.13,390.67 1164.12,391.26 1168.10,391.87 1172.08,392.51 1176.05,393.18 1180.01,393.86 1183.97,394.57 1187.93,395.31 1191.87,396.06 1195.81,396.85 1199.74,397.65 1203.66,398.48 1207.58,399.33 1211.48,400.21 1215.38,401.11 1219.27,402.03 1223.15,402.98 1227.02,403.95 1230.89,404.94 1234.74,405.96 1238.58,407.00 1242.42,408.06 1246.24,409.15 1250.05,410.26 1253.86,411.39 1257.65,412.55 1261.43,413.73 1265.20,414.93 1268.95,416.16 1272.70,417.41 1276.43,418.68 1280.16,419.97 1283.86,421.29 1287.56,422.63 1291.24,424.00 1294.91,425.38 1298.57,426.79 1302.22,428.22 1305.85,429.67 1309.46,431.15 1313.06,432.65 1316.65,434.17 1320.22,435.71 1323.78,437.28 1327.32,438.86 1330.85,440.47 1334.36,442.11 1337.85,443.76 1341.33,445.43 1344.80,447.13 1348.24,448.85 1351.67,450.59 1355.08,452.35 1358.48,454.14 1361.86,455.94 1365.22,457.77 1368.56,459.62 1371.88,461.49 1375.19,463.38 1378.48,465.29 1381.74,467.22 1384.99,469.17 1388.22,471.15 1391.43,473.14 1394.62,475.16 1397.79,477.19 1400.95,479.25 1404.08,481.33 1407.19,483.43 1410.27,485.54 1413.34,487.68 1416.39,489.84 1419.41,492.02 1422.42,494.21 1425.40,496.43 1428.35,498.67 1431.29,500.92 1434.20,503.20 1437.10,505.49 1439.96,507.81 1442.81,510.14 1445.63,512.49 1448.42,514.86 1451.20,517.25 1453.95,519.66 1456.67,522.09 1459.37,524.54 1462.04,527.00 1464.69,529.48 1467.32,531.98 1469.92,534.50 1472.49,537.03 1475.04,539.59 1477.56,542.16 1480.05,544.75 1482.52,547.35 1484.96,549.97 1487.37,552.61 1489.76,555.27 1492.12,557.94 1494.45,560.63 1496.75,563.34 1499.03,566.06 1501.27,568.80 1503.49,571.55 1505.68,574.32 1507.84,577.11 1509.97,579.91 1512.07,582.73 1514.15,585.56 1516.19,588.41 1518.20,591.27 1520.18,594.15 1522.13,597.04 1524.05,599.95 1525.94,602.87 1527.80,605.80 1529.63,608.75 1531.43,611.72 1533.19,614.69 1534.92,617.68 1536.62,620.69 1538.29,623.70 1539.93,626.73 1541.53,629.77 1543.10,632.83 1544.64,635.89 1546.15,638.97 1547.62,642.06 1549.05,645.17 1550.46,648.28 1551.83,651.41 1553.16,654.54 1554.46,657.69 1555.73,660.85 1556.96,664.02 1558.16,667.20 1559.32,670.39 1560.45,673.59 1561.54,676.80 1562.60,680.02 1563.62,683.25 1564.60,686.49 1565.55,689.74 1566.47,692.99 1567.34,696.26 1568.18,699.53 1568.99,702.81 1569.75,706.10 1570.48,709.40 1571.18,712.70 1571.83,716.01 1572.45,719.33 1573.03,722.66 1573.57,725.99 1574.08,729.33 1574.54,732.67 1574.97,736.02 1575.36,739.38 1575.72,742.74 1576.03,746.10 1576.31,749.47 1576.54,752.85 1576.74,756.23 1576.90,759.61 1577.02,763.00 1577.10,766.39 1577.14,769.78 1577.15,773.18 1577.11,776.58 1577.03,779.99 1576.91,783.39 1576.76,786.80 1576.56,790.21 1576.33,793.62 1576.05,797.03 1575.73,800.44 1575.38,803.86 1574.98,807.27 1574.55,810.68 1574.07,814.10 1573.55,817.51 1572.99,820.92 1572.39,824.34 1571.75,827.75 1571.07,831.16 1570.35,834.56 1569.59,837.97 1568.79,841.37 1567.95,844.77 1567.06,848.17 1566.14,851.56 1565.17,854.95 1564.16,858.34 1563.11,861.72 1562.03,865.10 1560.90,868.48 1559.72,871.85 1558.51,875.21 1557.26,878.57 1555.96,881.92 1554.63,885.26 1553.25,888.60 1551.84,891.94 1550.38,895.26 1548.88,898.58 1547.34,901.89 1545.76,905.19 1544.13,908.49 1542.47,911.77 1540.77,915.05 1539.02,918.32 1537.24,921.58 1535.41,924.83 1533.55,928.06 1531.64,931.29 1529.69,934.51 1527.70,937.72 1525.68,940.91 1523.61,944.09 1521.50,947.26 1519.35,950.42 1517.16,953.57 1514.94,956.70 1512.67,959.82 1510.36,962.93 1508.02,966.02 1505.63,969.10 1503.20,972.17 1500.74,975.22 1498.24,978.25 1495.70,981.27 1493.11,984.28 1490.50,987.26 1487.84,990.24 1485.14,993.19 1482.41,996.13 1479.64,999.05 1476.83,1001.95 1473.98,1004.84 1471.10,1007.71 1468.17,1010.56 1465.22,1013.39 1462.22,1016.20 1459.19,1018.99 1456.12,1021.76 1453.02,1024.52 1449.88,1027.25 1446.70,1029.96 1443.49,1032.65 1440.24,1035.32 1436.96,1037.97 1433.65,1040.60 1430.30,1043.21 1426.91,1045.79 1423.49,1048.35 1420.04,1050.89 1416.55,1053.41 1413.03,1055.90 1409.48,1058.37 1405.90,1060.81 1402.28,1063.23 1398.63,1065.63 1394.95,1068.00 1391.24,1070.34 1387.49,1072.66 1383.72,1074.96 1379.91,1077.23 1376.08,1079.47 1372.21,1081.69 1368.32,1083.88 1364.39,1086.05 1360.44,1088.18 1356.46,1090.29 1352.45,1092.37 1348.41,1094.43 1344.34,1096.46 1340.25,1098.45 1336.13,1100.42 1331.98,1102.36 1327.81,1104.28 1323.61,1106.16 1319.39,1108.01 1315.14,1109.84 1310.87,1111.63 1306.57,1113.39 1302.25,1115.13 1297.90,1116.83 1293.54,1118.50 1289.15,1120.15 1284.73,1121.76 1280.30,1123.34 1275.85,1124.89 1271.37,1126.40 1266.87,1127.89 1262.35,1129.34 1257.82,1130.76 1253.26,1132.15 1248.69,1133.50 1244.09,1134.83 1239.48,1136.12 1234.85,1137.37 1230.21,1138.60 1225.54,1139.79" fill="#4f81bd" fill-opacity="0.720" stroke="#376092" stroke-opacity="0.85" stroke-width="1.40" stroke-linejoin="round"/>
<polygon points="1063.15,733.39 1225.54,1139.79 1220.88,1140.94 1216.21,1142.06 1211.52,1143.15 1206.81,1144.20 1202.09,1145.22 1197.36,1146.20 1192.62,1147.15 1187.86,1148.07 1183.08,1148.95 1178.30,1149.80 1173.51,1150.61 1168.70,1151.39 1163.88,1152.14 1159.06,1152.85 1154.22,1153.52 1149.38,1154.16 1144.52,1154.77 1139.66,1155.34 1134.79,1155.88 1129.91,1156.38 1125.03,1156.84 1120.14,1157.27 1115.25,1157.66 1110.35,1158.02 1105.44,1158.35 1100.53,1158.63 1095.62,1158.89 1090.70,1159.10 1085.78,1159.29 1080.86,1159.43 1075.94,1159.54 1071.01,1159.62 1066.09,1159.66 1061.16,1159.66 1056.24,1159.63 1051.31,1159.56 1046.39,1159.46 1041.47,1159.32 1036.55,1159.14 1031.63,1158.93 1026.72,1158.69 1021.81,1158.41 1016.90,1158.09 1012.00,1157.74 1007.10,1157.35 1002.21,1156.93 997.33,1156.47 992.45,1155.98 987.58,1155.45 982.72,1154.88 977.86,1154.28 973.01,1153.65 968.18,1152.98 963.35,1152.28 958.53,1151.54 953.72,1150.77 948.92,1149.96 944.14,1149.12 939.36,1148.24 934.60,1147.33 929.85,1146.39 925.12,1145.41 920.40,1144.40 915.69,1143.35 911.00,1142.28 906.32,1141.16 901.65,1140.02 897.01,1138.84 892.38,1137.62 887.76,1136.38 883.17,1135.10 878.59,1133.79 874.03,1132.45 869.49,1131.07 864.96,1129.66 860.46,1128.22 855.98,1126.75 851.51,1125.25 847.07,1123.72 842.65,1122.15 838.25,1120.55 833.87,1118.93 829.52,1117.27 825.18,1115.58 820.87,1113.86 816.59,1112.11 812.33,1110.33 808.09,1108.53 803.88,1106.69 799.69,1104.82 795.52,1102.93 791.39,1101.00 787.28,1099.05 783.19,1097.07 779.13,1095.06 775.10,1093.02 771.10,1090.95 767.13,1088.86 763.18,1086.74 759.26,1084.60 755.37,1082.42 751.51,1080.22 747.68,1078.00 743.88,1075.75 740.11,1073.47 736.37,1071.17 732.67,1068.84 728.99,1066.49 725.34,1064.11 721.73,1061.71 718.15,1059.28 714.60,1056.83 711.08,1054.36 707.59,1051.86 704.14,1049.34 700.72,1046.80 697.34,1044.24" fill="#c0504d" fill-opacity="0.720" stroke="#953735" stroke-opacity="0.85" stroke-width="1.40" stroke-linejoin="round"/>
<polygon points="1063.15,733.39 697.34,1044.24 694.00,1041.66 690.69,1039.06 687.42,1036.44 684.18,1033.80 680.98,1031.14 677.81,1028.45 674.68,1025.75 671.58,1023.03 668.52,1020.28 665.50,1017.52 662.51,1014.74 659.55,1011.94 656.63,1009.12 653.75,1006.28 650.91,1003.43 648.10,1000.55 645.33,997.66 642.60,994.75 639.90,991.83 637.24,988.89 634.62,985.93 632.04,982.96 629.49,979.97 626.99,976.97 624.52,973.95 622.09,970.92 619.70,967.87 617.35,964.81 615.03,961.73 612.76,958.64 610.52,955.54 608.32,952.42 606.17,949.30 604.05,946.16 601.97,943.00 599.93,939.84 597.93,936.67 595.97,933.48 594.05,930.28 592.17,927.08 590.33,923.86 588.53,920.63 586.77,917.39 585.05,914.15 583.37,910.89 581.73,907.63 580.13,904.36 578.57,901.08 577.05,897.79 575.57,894.49 574.13,891.19 572.74,887.88 571.38,884.56 570.06,881.24 568.79,877.91 567.55,874.58 566.35,871.24 565.20,867.90 564.08,864.55 563.01,861.19 561.97,857.83 560.98,854.47 560.03,851.10 559.11,847.74 558.24,844.36 557.41,840.99 556.62,837.61 555.87,834.23 555.15,830.85 554.48,827.46 553.85,824.08 553.26,820.69 552.71,817.30 552.20,813.91 551.73,810.53 551.29,807.14 550.90,803.75 550.55,800.36 550.24,796.97 549.96,793.59 549.73,790.20 549.53,786.82 549.38,783.43 549.26,780.05 549.19,776.68 549.15,773.30 549.15,769.93 549.19,766.56 549.27,763.19 549.38,759.83 549.54,756.47 549.73,753.12 549.96,749.77 550.23,746.42 550.54,743.08 550.89,739.74 551.27,736.41 551.69,733.09 552.15,729.77 552.65,726.45 553.18,723.14 553.75,719.84 554.36,716.55 555.00,713.26 555.68,709.98 556.40,706.70 557.16,703.44 557.95,700.18 558.77,696.93 559.64,693.69 560.53,690.45" fill="#9bbb59" fill-opacity="0.720" stroke="#77933c" stroke-opacity="0.85" stroke-width="1.40" stroke-linejoin="round"/>
<polygon points="1063.15,733.39 560.53,690.45 561.46,687.25 562.43,684.05 563.42,680.86 564.46,677.68 565.52,674.51 566.63,671.35 567.76,668.20 568.93,665.06 570.14,661.93 571.37,658.81 572.65,655.70 573.95,652.60 575.29,649.51 576.66,646.44 578.06,643.37 579.50,640.32 580.97,637.27 582.47,634.24 584.01,631.22 585.57,628.22 587.17,625.22 588.80,622.24 590.46,619.27 592.15,616.32 593.88,613.37 595.63,610.44 597.42,607.52 599.23,604.62 601.08,601.73 602.96,598.85 604.86,595.99 606.80,593.14 608.76,590.31 610.76,587.49 612.78,584.69 614.83,581.90 616.92,579.12 619.03,576.36 621.17,573.62 623.33,570.89 625.53,568.17 627.75,565.48 630.00,562.79 632.28,560.13 634.58,557.48 636.91,554.84 639.27,552.22 641.66,549.62 644.07,547.04 646.51,544.47 648.97,541.92 651.46,539.38 653.97,536.86 656.51,534.36 659.08,531.88 661.67,529.42 664.28,526.97 666.92,524.54 669.58,522.13 672.27,519.73 674.98,517.35 677.71,515.00 680.47,512.65 683.25,510.33 686.06,508.03 688.88,505.74" fill="#8064a2" fill-opacity="0.720" stroke="#604a7b" stroke-opacity="0.85" stroke-width="1.40" stroke-linejoin="round"/>
<polygon points="1063.15,733.39 688.88,505.74 691.45,503.70 694.04,501.67 696.64,499.66" fill="#4bacc6" fill-opacity="0.720" stroke="#31859c" stroke-opacity="0.85" stroke-width="1.40" stroke-linejoin="round"/>
<polygon points="1063.15,733.39 696.64,499.66 699.58,497.42 702.54,495.20 705.52,493.01 708.52,490.83 711.55,488.67 714.60,486.53 717.66,484.41 720.75,482.31 723.86,480.23 726.99,478.17 730.14,476.14 733.31,474.12 736.50,472.12 739.71,470.14 742.93,468.19 746.18,466.25 749.45,464.34 752.73,462.44 756.03,460.57 759.35,458.72 762.69,456.89 766.05,455.08 769.42,453.29 772.81,451.52 776.22,449.78 779.64,448.05 783.08,446.35 786.54,444.67 790.02,443.01 793.50,441.37 797.01,439.76 800.53,438.16 804.07,436.59 807.62,435.04 811.18,433.51 814.76,432.01 818.36,430.52 821.96,429.06 825.59,427.62 829.22,426.21 832.87,424.81 836.53,423.44 840.21,422.09 843.90,420.77 847.60,419.46 851.31,418.18 855.03,416.92 858.77,415.69 862.52,414.48 866.28,413.29 870.05,412.12 873.83,410.98 877.62,409.85 881.42,408.76 885.24,407.68 889.06,406.63 892.89,405.60 896.74,404.60 900.59,403.61 904.45,402.66 908.32,401.72 912.20,400.81 916.08,399.92 919.98,399.05 923.88,398.21 927.79,397.39 931.71,396.60 935.63,395.83 939.57,395.08 943.51,394.36 947.45,393.66 951.40,392.98 955.36,392.33 959.33,391.70 963.30,391.09 967.27,390.51 971.26,389.95 975.24,389.42 979.23,388.90 983.23,388.42 987.23,387.96 991.24,387.52 995.24,387.10 999.26,386.71 1003.27,386.34 1007.29,386.00 1011.31,385.68 1015.34,385.38 1019.37,385.11 1023.40,384.86 1027.43,384.64 1031.46,384.44 1035.50,384.26" fill="#f79646" fill-opacity="0.720" stroke="#e46c0a" stroke-opacity="0.85" stroke-width="1.40" stroke-linejoin="round"/>
<polygon points="1063.15,733.39 1035.50,384.26 1039.01,384.13 1042.51,384.01" fill="#2c4d75" fill-opacity="0.720" stroke="#213a58" stroke-opacity="0.85" stroke-width="1.40" stroke-linejoin="round"/>
<polygon points="1063.15,733.39 1042.51,384.01 1045.97,383.92 1049.43,383.84 1052.89,383.78 1056.35,383.73 1059.82,383.71 1063.28,383.70" fill="#772c2a" fill-opacity="0.720" stroke="#59211f" stroke-opacity="0.85" stroke-width="1.40" stroke-linejoin="round"/>
</g>
<polyline points="691.9,361.6 710.7,361.6 851.7,418.7" fill="none" stroke="#a6a6a6" stroke-width="2.2" stroke-linejoin="round"/>
<polyline points="404.8,538.4 423.8,538.4 608.6,591.4" fill="none" stroke="#a6a6a6" stroke-width="2.2" stroke-linejoin="round"/>
<polyline points="1052.6,344.7 1052.6,383.5" fill="none" stroke="#a6a6a6" stroke-width="2.2" stroke-linejoin="round"/>
<polyline points="1429.0,338.4 1409.6,338.4 1039.0,385.0" fill="none" stroke="#a6a6a6" stroke-width="2.2" stroke-linejoin="round"/>
<g><rect x="1003.2" y="224.1" width="169.7" height="130.6" fill="#475824" fill-opacity="0.34" filter="url(#blur)"/></g>
<rect x="998.60" y="216.50" width="164.90" height="125.80" rx="1" fill="none" stroke="#5F7530" stroke-width="4.80" stroke-linejoin="round"/>
<rect x="1001.0" y="218.9" width="160.1" height="121.0" fill="#ffffff" fill-opacity="0.870"/>
<text x="1080.6" y="267.4" text-anchor="middle" font-size="42.0" fill="#5F7530" textLength="135.2" lengthAdjust="spacingAndGlyphs">Malaga</text>
<text x="1080.4" y="323.5" text-anchor="middle" font-size="42.0" fill="#5F7530" textLength="112.8" lengthAdjust="spacingAndGlyphs">0,71%</text>
<g><rect x="1436.1" y="304.2" width="145.7" height="129.4" fill="#59211f" fill-opacity="0.34" filter="url(#blur)"/></g>
<rect x="1431.50" y="296.60" width="140.90" height="124.60" rx="1" fill="none" stroke="#772C2A" stroke-width="4.80" stroke-linejoin="round"/>
<rect x="1433.9" y="299.0" width="136.1" height="119.8" fill="#ffffff" fill-opacity="0.870"/>
<text x="1501.5" y="346.7" text-anchor="middle" font-size="42.0" fill="#772C2A" textLength="83.6" lengthAdjust="spacingAndGlyphs">Vigo</text>
<text x="1501.8" y="403.0" text-anchor="middle" font-size="42.0" fill="#772C2A" textLength="113.3" lengthAdjust="spacingAndGlyphs">0,24%</text>
<g><rect x="509.9" y="326.7" width="189.0" height="131.1" fill="#213a58" fill-opacity="0.34" filter="url(#blur)"/></g>
<rect x="505.30" y="319.10" width="184.20" height="126.30" rx="1" fill="none" stroke="#2C4D75" stroke-width="4.80" stroke-linejoin="round"/>
<rect x="507.7" y="321.5" width="179.4" height="121.5" fill="#ffffff" fill-opacity="0.870"/>
<text x="596.2" y="370.6" text-anchor="middle" font-size="42.0" fill="#2C4D75" textLength="157.5" lengthAdjust="spacingAndGlyphs">Valencia</text>
<text x="597.9" y="426.8" text-anchor="middle" font-size="42.0" fill="#2C4D75" textLength="133.7" lengthAdjust="spacingAndGlyphs">12,85%</text>
<g><rect x="249.1" y="504.2" width="162.7" height="129.5" fill="#604a7b" fill-opacity="0.34" filter="url(#blur)"/></g>
<rect x="244.50" y="496.60" width="157.90" height="124.70" rx="1" fill="none" stroke="#8064A2" stroke-width="4.80" stroke-linejoin="round"/>
<rect x="246.9" y="499.0" width="153.1" height="119.9" fill="#ffffff" fill-opacity="0.870"/>
<text x="324.1" y="546.7" text-anchor="middle" font-size="42.0" fill="#8064A2" textLength="127.6" lengthAdjust="spacingAndGlyphs">Murcia</text>
<text x="323.8" y="603.0" text-anchor="middle" font-size="42.0" fill="#8064A2" textLength="112.5" lengthAdjust="spacingAndGlyphs">9,03%</text>
<g><rect x="390.1" y="993.1" width="150.7" height="130.5" fill="#e46c0a" fill-opacity="0.34" filter="url(#blur)"/></g>
<rect x="385.50" y="985.50" width="145.90" height="125.70" rx="1" fill="none" stroke="#F79646" stroke-width="4.80" stroke-linejoin="round"/>
<rect x="387.9" y="987.9" width="141.1" height="120.9" fill="#ffffff" fill-opacity="0.870"/>
<text x="457.2" y="1036.6" text-anchor="middle" font-size="42.0" fill="#F79646" textLength="118.1" lengthAdjust="spacingAndGlyphs">Sevilla</text>
<text x="458.6" y="1092.6" text-anchor="middle" font-size="42.0" fill="#F79646" textLength="112.9" lengthAdjust="spacingAndGlyphs">0,37%</text>
<clipPath id="k_Madrid"><path clip-rule="evenodd" d="M0 0H2126V1320H0Z M1216.1 587.3H1540.7V812.6H1216.1Z"/></clipPath>
<g clip-path="url(#k_Madrid)"><rect x="1223.1" y="597.3" width="324.6" height="225.3" fill="#376092" fill-opacity="0.34" filter="url(#blur)"/></g>
<rect x="1218.50" y="589.70" width="319.80" height="220.50" rx="1" fill="none" stroke="#4F81BD" stroke-width="4.80" stroke-linejoin="round"/>
<rect x="1220.9" y="592.1" width="315.0" height="215.7" fill="#ffffff" fill-opacity="0.880"/>
<text x="1378.5" y="688.2" text-anchor="middle" font-size="42.0" fill="#4F81BD" textLength="133.6" lengthAdjust="spacingAndGlyphs">Madrid</text>
<text x="1377.9" y="744.3" text-anchor="middle" font-size="42.0" fill="#4F81BD" textLength="136.3" lengthAdjust="spacingAndGlyphs">45,35%</text>
<clipPath id="k_Asturias"><path clip-rule="evenodd" d="M0 0H2126V1320H0Z M627.3 763.3H809.4V892.4H627.3Z"/></clipPath>
<g clip-path="url(#k_Asturias)"><rect x="634.3" y="773.3" width="182.1" height="129.1" fill="#77933c" fill-opacity="0.34" filter="url(#blur)"/></g>
<rect x="629.70" y="765.70" width="177.30" height="124.30" rx="1" fill="none" stroke="#9BBB59" stroke-width="4.80" stroke-linejoin="round"/>
<rect x="632.1" y="768.1" width="172.5" height="119.5" fill="#ffffff" fill-opacity="0.880"/>
<text x="718.3" y="816.0" text-anchor="middle" font-size="42.0" fill="#9BBB59" textLength="151.2" lengthAdjust="spacingAndGlyphs">Asturias</text>
<text x="719.2" y="871.8" text-anchor="middle" font-size="42.0" fill="#9BBB59" textLength="133.6" lengthAdjust="spacingAndGlyphs">15,28%</text>
<clipPath id="k_Barcelona"><path clip-rule="evenodd" d="M0 0H2126V1320H0Z M858.4 1002.1H1076.2V1131.2H858.4Z"/></clipPath>
<g clip-path="url(#k_Barcelona)"><rect x="865.4" y="1012.1" width="217.8" height="129.1" fill="#953735" fill-opacity="0.34" filter="url(#blur)"/></g>
<rect x="860.80" y="1004.50" width="213.00" height="124.30" rx="1" fill="none" stroke="#C0504D" stroke-width="4.80" stroke-linejoin="round"/>
<rect x="863.2" y="1006.9" width="208.2" height="119.5" fill="#ffffff" fill-opacity="0.880"/>
<text x="967.4" y="1055.2" text-anchor="middle" font-size="42.0" fill="#C0504D" textLength="182.2" lengthAdjust="spacingAndGlyphs">Barcelona</text>
<text x="968.1" y="1111.2" text-anchor="middle" font-size="42.0" fill="#C0504D" textLength="133.6" lengthAdjust="spacingAndGlyphs">16,16%</text>
</svg>
</body></html>
